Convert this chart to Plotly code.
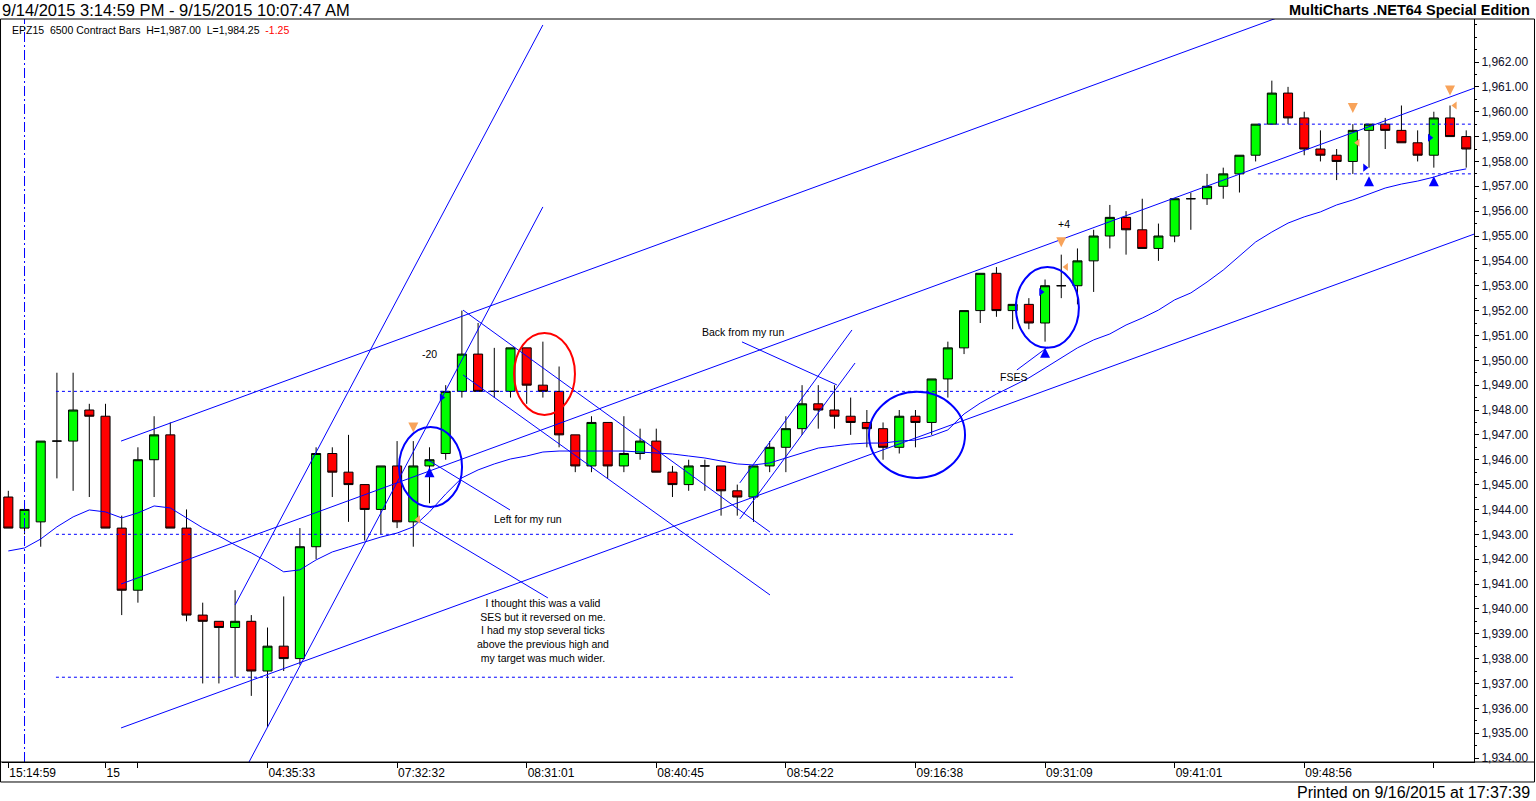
import plotly.graph_objects as go

# EPZ15 6500 contract bars, 9/14 15:14:59 -> 9/15 10:07:47
bar_open = [1944.5, 1943.25, 1943.5, 1946.75, 1946.75, 1948.0, 1947.75, 1943.25, 1940.75, 1946.0,
            1947.0, 1943.25, 1939.75, 1939.5, 1939.25, 1939.5, 1937.5, 1938.5, 1938.0, 1942.5,
            1946.25, 1945.5, 1945.0, 1944.0, 1945.75, 1943.5, 1945.75, 1946.25, 1948.75, 1950.25,
            1948.75, 1948.75, 1950.5, 1949.0, 1948.75, 1947.0, 1945.75, 1947.5, 1945.75, 1946.25,
            1946.75, 1945.5, 1945.0, 1945.75, 1945.75, 1944.75, 1944.5, 1945.75, 1946.5, 1947.25,
            1948.25, 1948.0, 1947.75, 1947.5, 1947.25, 1946.5, 1947.75, 1947.5, 1949.25, 1950.5,
            1952.0, 1953.5, 1952.0, 1952.25, 1951.5, 1953.0, 1953.0, 1954.0, 1955.0, 1955.75,
            1955.25, 1954.5, 1955.0, 1956.5, 1956.5, 1957.0, 1957.5, 1958.25, 1959.5, 1960.75,
            1959.75, 1958.5, 1958.25, 1958.0, 1959.25, 1959.5, 1959.25, 1958.75, 1958.25, 1959.75,
            1959.0]
bar_high = [1944.75, 1944.25, 1946.75, 1949.5, 1949.5, 1948.25, 1948.25, 1943.75, 1946.5, 1947.75,
            1947.5, 1944.0, 1940.25, 1939.5, 1940.75, 1939.75, 1939.25, 1940.5, 1943.25, 1946.5,
            1946.5, 1947.0, 1945.0, 1945.75, 1946.75, 1946.75, 1946.5, 1949.0, 1952.0, 1951.5,
            1950.5, 1950.5, 1950.5, 1950.75, 1949.75, 1947.0, 1947.75, 1947.5, 1947.75, 1947.25,
            1947.25, 1945.75, 1946.0, 1946.0, 1945.75, 1945.0, 1945.75, 1946.75, 1947.75, 1949.0,
            1949.0, 1949.0, 1948.5, 1948.0, 1947.5, 1948.0, 1948.0, 1949.25, 1950.75, 1952.0,
            1953.5, 1953.75, 1952.25, 1952.5, 1953.25, 1954.25, 1954.5, 1955.25, 1956.25, 1956.0,
            1956.5, 1955.5, 1956.5, 1956.75, 1957.5, 1957.75, 1958.25, 1959.5, 1961.25, 1961.0,
            1960.0, 1959.25, 1958.5, 1959.5, 1959.5, 1959.75, 1960.25, 1959.25, 1960.0, 1960.25,
            1959.25]
bar_low = [1943.25, 1943.0, 1942.5, 1945.25, 1944.75, 1944.5, 1943.25, 1939.75, 1940.25, 1944.5,
           1943.25, 1939.5, 1937.0, 1937.0, 1937.25, 1936.5, 1935.25, 1937.5, 1937.75, 1942.0,
           1944.5, 1943.5, 1942.75, 1943.0, 1943.25, 1942.5, 1944.25, 1946.0, 1948.5, 1948.75,
           1948.5, 1948.5, 1948.25, 1948.5, 1946.5, 1945.5, 1945.5, 1945.25, 1945.5, 1946.0,
           1945.5, 1944.5, 1944.75, 1944.75, 1943.75, 1943.75, 1943.5, 1945.5, 1945.5, 1947.0,
           1947.25, 1947.25, 1947.0, 1946.5, 1946.0, 1946.25, 1946.5, 1947.0, 1948.5, 1950.25,
           1951.5, 1951.75, 1951.25, 1951.25, 1950.75, 1952.5, 1952.25, 1952.75, 1954.5, 1954.25,
           1954.5, 1954.0, 1954.75, 1955.25, 1956.25, 1956.5, 1956.75, 1958.0, 1959.5, 1959.5,
           1958.25, 1958.0, 1957.25, 1957.5, 1957.75, 1958.5, 1958.75, 1958.0, 1957.75, 1959.0,
           1957.75]
bar_close = [1943.25, 1944.0, 1946.75, 1946.75, 1948.0, 1947.75, 1943.25, 1940.75, 1946.0, 1947.0,
             1943.25, 1939.75, 1939.5, 1939.25, 1939.5, 1937.5, 1938.5, 1938.0, 1942.5, 1946.25,
             1945.5, 1945.0, 1944.0, 1945.75, 1943.5, 1945.75, 1946.0, 1948.75, 1950.25, 1948.75,
             1948.75, 1950.5, 1949.0, 1948.75, 1947.0, 1945.75, 1947.5, 1945.75, 1946.25, 1946.75,
             1945.5, 1945.0, 1945.75, 1945.75, 1944.75, 1944.5, 1945.75, 1946.5, 1947.25, 1948.25,
             1948.0, 1947.75, 1947.5, 1947.25, 1946.5, 1947.75, 1947.5, 1949.25, 1950.5, 1952.0,
             1953.5, 1952.0, 1952.25, 1951.5, 1953.0, 1953.0, 1954.0, 1955.0, 1955.75, 1955.25,
             1954.5, 1955.0, 1956.5, 1956.5, 1957.0, 1957.5, 1958.25, 1959.5, 1960.75, 1959.75,
             1958.5, 1958.25, 1958.0, 1959.25, 1959.5, 1959.25, 1958.75, 1958.25, 1959.75, 1959.0,
             1958.5]

# moving average drawn over the bars
avg_line = [1942.33, 1942.45, 1942.81, 1943.30, 1943.70, 1943.98, 1943.90, 1943.66, 1943.86, 1944.14,
            1944.06, 1943.66, 1943.26, 1942.93, 1942.57, 1942.25, 1941.89, 1941.49, 1941.57, 1941.97,
            1942.29, 1942.49, 1942.69, 1942.89, 1943.05, 1943.30, 1943.90, 1944.62, 1945.27, 1945.59,
            1945.83, 1946.03, 1946.15, 1946.31, 1946.35, 1946.35, 1946.35, 1946.35, 1946.35, 1946.31,
            1946.27, 1946.23, 1946.15, 1946.07, 1945.95, 1945.83, 1945.79, 1945.87, 1946.07, 1946.27,
            1946.47, 1946.55, 1946.63, 1946.67, 1946.67, 1946.75, 1946.79, 1946.96, 1947.20, 1947.84,
            1948.28, 1948.64, 1948.97, 1949.29, 1949.69, 1950.09, 1950.50, 1950.82, 1951.06, 1951.42,
            1951.70, 1952.02, 1952.43, 1952.71, 1953.15, 1953.63, 1954.20, 1954.76, 1955.16, 1955.52,
            1955.77, 1955.97, 1956.25, 1956.45, 1956.69, 1956.93, 1957.09, 1957.21, 1957.37, 1957.58,
            1957.70]

time_tick_bars = [0, 6, 8, 16, 24, 32, 40, 48, 56, 64, 72, 80, 88]
time_tick_text = ['15:14:59', '15', '', '04:35:33', '07:32:32', '08:31:01', '08:40:45',
                  '08:54:22', '09:16:38', '09:31:09', '09:41:01', '09:48:56', '']
price_ticks = list(range(1934, 1963))

# hand drawn lines: (bar, price) -> (bar, price)
trend_lines = [
    ((6.96, 1946.75), (79.1, 1963.96)),
    ((6.96, 1941.0), (90.5, 1960.95)),
    ((6.96, 1935.21), (90.5, 1955.08)),
    ((14.0, 1940.16), (33.0, 1963.49)),
    ((14.86, 1933.84), (33.0, 1956.17)),
    ((28.07, 1952.02), (47.02, 1943.09)),
    ((28.07, 1949.41), (47.02, 1940.56)),
    ((45.16, 1945.07), (52.08, 1951.22)),
    ((45.16, 1943.62), (52.27, 1949.89)),
    ((25.91, 1945.99), (30.97, 1943.98)),
    ((25.23, 1943.58), (33.31, 1940.44)),
    ((45.29, 1950.74), (51.15, 1949.01)),
    ((62.26, 1949.61), (64.18, 1950.54)),
]
# dotted price levels: price, first bar, last bar
level_price = [1948.75, 1943.0, 1937.25, 1959.5, 1957.5]
level_from = [2.94, 2.94, 2.94, 77.14, 77.14]
level_to = [62.02, 62.02, 62.02, 90.5, 90.5]

# circled areas: bar from, bar to, price low, price high
circle_bars = [(24.12, 28.01), (31.22, 34.98), (53.13, 59.06), (62.20, 66.09)]
circle_prices = [(1944.10, 1947.32), (1947.80, 1951.10), (1945.27, 1948.73), (1950.50, 1953.75)]
circle_colors = ['#0000FF', '#FF0000', '#0000FF', '#0000FF']

# strategy signals
sell_arrow_bar = [25, 65, 83, 89]
sell_arrow_price = [1947.1, 1954.55, 1959.95, 1960.65]
sell_flag_bar = [25, 65, 83, 89]
sell_flag_price = [1943.6, 1953.75, 1958.75, 1960.25]
buy_arrow_bar = [26, 64, 84, 88]
buy_arrow_price = [1945.7, 1950.5, 1957.4, 1957.4]
buy_flag_bar = [27, 64, 84, 88]
buy_flag_price = [1948.5, 1952.75, 1957.75, 1958.95]

notes = [
    (26.03, 1950.25, '-20'),
    (32.08, 1943.62, 'Left for my run'),
    (45.35, 1951.14, 'Back from my run'),
    (62.08, 1949.33, 'FSES'),
    (65.17, 1955.48, '+4'),
    (33.0, 1939.13, 'I thought this was a valid<br>SES but it reversed on me.<br>I had my stop several ticks<br>'
                    'above the previous high and<br>my target was much wider.'),
]

bars = list(range(len(bar_open)))
FONT = 'Liberation Sans, Arial, sans-serif'

fig = go.Figure()

fig.add_trace(go.Candlestick(x=bars, open=bar_open, high=bar_high, low=bar_low, close=bar_close,
                             increasing=dict(fillcolor='#00FF00', line=dict(color='black', width=1)),
                             decreasing=dict(fillcolor='#FF0000', line=dict(color='black', width=1)),
                             whiskerwidth=0, hoverinfo='skip'))

fig.add_trace(go.Scatter(x=bars, y=avg_line, mode='lines', line=dict(color='#0000FF', width=1),
                         hoverinfo='skip'))

for (x0, y0), (x1, y1) in trend_lines:
    fig.add_trace(go.Scatter(x=[x0, x1], y=[y0, y1], mode='lines',
                             line=dict(color='#0000FF', width=1), hoverinfo='skip'))

for p, a, b in zip(level_price, level_from, level_to):
    fig.add_trace(go.Scatter(x=[a, b], y=[p, p], mode='lines',
                             line=dict(color='#0000FF', width=1, dash='3px,3px'), hoverinfo='skip'))

fig.add_trace(go.Scatter(x=sell_arrow_bar, y=sell_arrow_price, mode='markers',
                         marker=dict(symbol='arrow-down', size=10, color='#F8A35A'), hoverinfo='skip'))
fig.add_trace(go.Scatter(x=[b + 0.3 for b in sell_flag_bar], y=sell_flag_price, mode='markers',
                         marker=dict(symbol='triangle-left', size=7, color='#F8A35A'), hoverinfo='skip'))
fig.add_trace(go.Scatter(x=buy_arrow_bar, y=buy_arrow_price, mode='markers',
                         marker=dict(symbol='arrow-up', size=10, color='#0000FF'), hoverinfo='skip'))
fig.add_trace(go.Scatter(x=[b - 0.25 for b in buy_flag_bar], y=buy_flag_price, mode='markers',
                         marker=dict(symbol='triangle-right', size=7, color='#0000FF'), hoverinfo='skip'))

for (x0, x1), (y0, y1), c in zip(circle_bars, circle_prices, circle_colors):
    fig.add_shape(type='circle', xref='x', yref='y', x0=x0, x1=x1, y0=y0, y1=y1,
                  line=dict(color=c, width=2))

# session start marker
fig.add_shape(type='line', xref='x', yref='paper', x0=1, x1=1, y0=0, y1=1,
              line=dict(color='#0000FF', width=1, dash='10px,3px,2px,3px'))

# panel frame
fig.add_shape(type='rect', xref='paper', yref='paper', x0=-0.001, x1=1.0411, y0=-0.0269, y1=1.0,
              line=dict(color='black', width=1))
fig.add_shape(type='line', xref='paper', yref='paper', x0=-0.001, x1=1.0411, y0=0, y1=0,
              line=dict(color='black', width=1))

for x, y, t in notes:
    fig.add_annotation(x=x, y=y, text=t, showarrow=False, font=dict(family=FONT, size=10.5, color='black'))

fig.add_annotation(xref='paper', yref='paper', x=-0.0014, y=1.0121, xanchor='left', yanchor='middle',
                   text='9/14/2015 3:14:59 PM - 9/15/2015 10:07:47 AM', showarrow=False,
                   font=dict(family=FONT, size=16.5, color='black'))
fig.add_annotation(xref='paper', yref='paper', x=1.0394, y=1.0121, xanchor='right', yanchor='middle',
                   text='<b>MultiCharts .NET64 Special Edition</b>', showarrow=False,
                   font=dict(family=FONT, size=14.5, color='black'))
fig.add_annotation(xref='paper', yref='paper', x=1.0394, y=-0.0404, xanchor='right', yanchor='middle',
                   text='Printed on 9/16/2015 at 17:37:39', showarrow=False,
                   font=dict(family=FONT, size=16, color='black'))
fig.add_annotation(xref='paper', yref='paper', x=0.0054, y=0.9852, xanchor='left', yanchor='middle',
                   text='EPZ15  6500 Contract Bars  H=1,987.00  L=1,984.25  <span style="color:#FF0000">-1.25</span>',
                   showarrow=False, font=dict(family=FONT, size=10.5, color='black'))

fig.update_layout(width=1536, height=801,
                  margin=dict(l=2, r=62, t=19, b=39),
                  paper_bgcolor='white', plot_bgcolor='white',
                  showlegend=False, hovermode=False, boxgap=0.2,
                  font=dict(family=FONT, size=12, color='black'))

fig.update_xaxes(range=[-0.39, 90.48], rangeslider_visible=False,
                 showgrid=False, zeroline=False, showline=True, linecolor='black', linewidth=1,
                 tickmode='array', tickvals=time_tick_bars, ticktext=time_tick_text,
                 ticks='outside', ticklen=5, tickcolor='black',
                 ticklabelposition='outside right', tickfont=dict(family=FONT, size=12, color='black'))

fig.update_yaxes(range=[1933.84, 1963.73], side='right',
                 showgrid=False, zeroline=False, showline=True, linecolor='black', linewidth=1,
                 tickmode='array', tickvals=price_ticks, tickformat=',.2f',
                 ticks='outside', ticklen=4, tickcolor='black',
                 minor=dict(tickmode='linear', tick0=1934, dtick=0.5, ticks='outside', ticklen=2,
                            tickcolor='black'),
                 tickfont=dict(family=FONT, size=12, color='#10102a'))

# drop the default page margin so the figure sits at the window corner
fig.write_html("out.html", config={'displayModeBar': False},
               post_script="document.body.style.margin='0px';")
